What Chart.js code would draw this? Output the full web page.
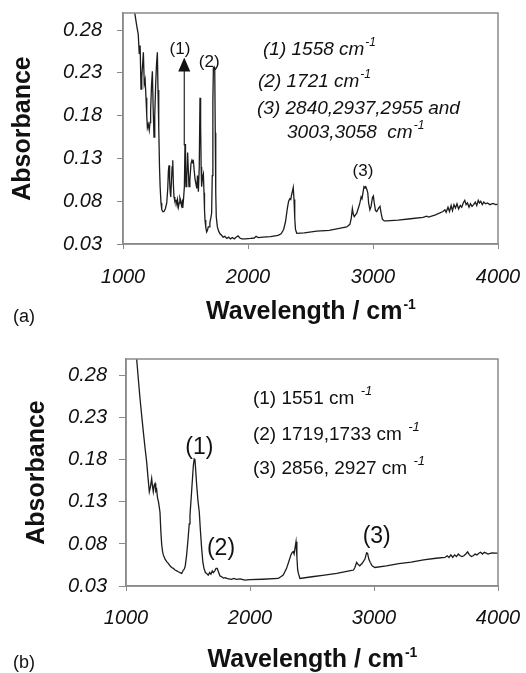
<!DOCTYPE html>
<html lang="en">
<head>
<meta charset="UTF-8">
<title>FTIR spectra (a) and (b)</title>
<style>
  body { margin: 0; background: #fff; }
  canvas { position: absolute; left: 0; }
  #chartA { top: 0; }
  #chartB { top: 330px; }
</style>
</head>
<body>
<canvas id="chartA" width="526" height="330"></canvas>
<canvas id="chartB" width="526" height="343"></canvas>

<script src="https://cdn.jsdelivr.net/npm/chart.js"></script>
<script>
// spectrum (a): wavenumber in cm-1, absorbance
const wavenumA = [1085, 1096, 1110, 1122, 1130, 1137, 1144, 1150, 1157, 1163, 1170, 1177, 1184, 1190, 1195, 1202, 1210, 1216, 1221, 1228,
  1235, 1241, 1248, 1254, 1261, 1268, 1275, 1280, 1286, 1292, 1297, 1304, 1310, 1320, 1328, 1338, 1350, 1358, 1363, 1368,
  1373, 1378, 1382, 1388, 1393, 1398, 1403, 1408, 1415, 1424, 1430, 1436, 1443, 1450, 1455, 1461, 1468, 1474, 1478, 1484,
  1491, 1496, 1500, 1504, 1510, 1517, 1522, 1528, 1535, 1544, 1552, 1558, 1563, 1570, 1577, 1584, 1590, 1596, 1603, 1610,
  1616, 1621, 1625, 1629, 1636, 1643, 1648, 1652, 1656, 1662, 1669, 1676, 1682, 1688, 1695, 1702, 1709, 1714, 1719, 1723,
  1729, 1734, 1738, 1742, 1746, 1755, 1765, 1776, 1790, 1800, 1815, 1830, 1845, 1860, 1875, 1890, 1905, 1920, 1935, 1950,
  1980, 2020, 2050, 2065, 2080, 2120, 2180, 2240, 2265, 2285, 2300, 2315, 2325, 2335, 2342, 2348, 2356, 2362, 2368, 2374,
  2380, 2390, 2450, 2550, 2650, 2720, 2790, 2815, 2826, 2835, 2842, 2850, 2870, 2885, 2895, 2905, 2912, 2920, 2928, 2935,
  2942, 2950, 2958, 2965, 2975, 2985, 2995, 3003, 3010, 3020, 3030, 3045, 3056, 3065, 3075, 3090, 3109, 3200, 3300, 3400,
  3430, 3445, 3500, 3560, 3575, 3585, 3600, 3612, 3625, 3636, 3648, 3660, 3672, 3685, 3698, 3710, 3722, 3734, 3745, 3756,
  3768, 3780, 3792, 3805, 3818, 3830, 3842, 3852, 3862, 3874, 3886, 3900, 3915, 3935, 3960, 3980, 4000];
const absorbA = [0.31, 0.298, 0.285, 0.275, 0.252, 0.262, 0.211, 0.225, 0.240, 0.254, 0.217, 0.222, 0.201, 0.180, 0.166, 0.170, 0.163, 0.172, 0.186, 0.215,
  0.232, 0.190, 0.155, 0.180, 0.215, 0.240, 0.254, 0.210, 0.166, 0.120, 0.097, 0.078, 0.070, 0.0676, 0.068, 0.071, 0.078, 0.095, 0.115, 0.122,
  0.104, 0.090, 0.085, 0.105, 0.120, 0.128, 0.100, 0.085, 0.080, 0.081, 0.077, 0.082, 0.073, 0.078, 0.084, 0.081, 0.075, 0.079, 0.072, 0.082,
  0.097, 0.147, 0.115, 0.097, 0.110, 0.137, 0.118, 0.097, 0.105, 0.124, 0.128, 0.126, 0.127, 0.115, 0.105, 0.100, 0.095, 0.110, 0.091, 0.120,
  0.201, 0.170, 0.120, 0.097, 0.108, 0.112, 0.090, 0.070, 0.058, 0.050, 0.044, 0.046, 0.050, 0.050, 0.055, 0.060, 0.066, 0.110, 0.197, 0.236,
  0.237, 0.233, 0.160, 0.090, 0.062, 0.050, 0.045, 0.042, 0.040, 0.038, 0.039, 0.0365, 0.038, 0.036, 0.0375, 0.036, 0.038, 0.0395, 0.037, 0.036,
  0.036, 0.0365, 0.037, 0.039, 0.0375, 0.038, 0.0385, 0.040, 0.042, 0.047, 0.056, 0.072, 0.080, 0.083, 0.082, 0.087, 0.092, 0.096, 0.082, 0.060,
  0.047, 0.0425, 0.043, 0.045, 0.046, 0.048, 0.050, 0.053, 0.060, 0.0715, 0.065, 0.062, 0.066, 0.073, 0.078, 0.085, 0.083, 0.090, 0.097, 0.096,
  0.097, 0.094, 0.090, 0.078, 0.070, 0.074, 0.084, 0.086, 0.078, 0.069, 0.068, 0.072, 0.074, 0.066, 0.059, 0.057, 0.057, 0.058, 0.0595, 0.061,
  0.0625, 0.0615, 0.064, 0.068, 0.070, 0.067, 0.073, 0.068, 0.075, 0.069, 0.076, 0.072, 0.077, 0.071, 0.075, 0.073, 0.078, 0.081, 0.076, 0.078,
  0.073, 0.077, 0.074, 0.076, 0.079, 0.075, 0.081, 0.078, 0.080, 0.076, 0.079, 0.077, 0.078, 0.076, 0.0775, 0.076, 0.0765];

// spectrum (b)
const wavenumB = [1080, 1086, 1100, 1113, 1127, 1140, 1153, 1167, 1178, 1188, 1197, 1207, 1214, 1220, 1227, 1234, 1240, 1247, 1254, 1262,
  1274, 1281, 1288, 1295, 1301, 1315, 1328, 1341, 1355, 1368, 1382, 1395, 1410, 1422, 1435, 1449, 1456, 1462, 1470, 1478,
  1489, 1500, 1510, 1516, 1528, 1537, 1543, 1550, 1556, 1562, 1570, 1580, 1591, 1600, 1610, 1620, 1629, 1640, 1650, 1663,
  1675, 1685, 1696, 1704, 1716, 1726, 1736, 1745, 1758, 1772, 1785, 1800, 1812, 1830, 1850, 1870, 1890, 1920, 1960, 2000,
  2100, 2228, 2268, 2295, 2315, 2330, 2340, 2349, 2356, 2363, 2371, 2378, 2384, 2390, 2403, 2500, 2600, 2700, 2800, 2835,
  2846, 2860, 2870, 2885, 2905, 2927, 2940, 2948, 2958, 2970, 2985, 3007, 3100, 3200, 3300, 3400, 3500, 3572, 3590, 3605,
  3620, 3635, 3650, 3665, 3680, 3695, 3710, 3725, 3740, 3755, 3770, 3785, 3800, 3815, 3830, 3845, 3860, 3875, 3890, 3905,
  3920, 3950, 3980, 4000];
const absorbB = [0.31, 0.300, 0.275, 0.253, 0.232, 0.213, 0.195, 0.177, 0.158, 0.142, 0.148, 0.158, 0.148, 0.142, 0.150, 0.152, 0.143, 0.145, 0.135, 0.130,
  0.118, 0.095, 0.079, 0.071, 0.067, 0.062, 0.059, 0.057, 0.054, 0.052, 0.051, 0.049, 0.048, 0.047, 0.046, 0.045, 0.047, 0.049, 0.050, 0.054,
  0.067, 0.085, 0.104, 0.114, 0.140, 0.160, 0.173, 0.181, 0.180, 0.168, 0.150, 0.132, 0.118, 0.096, 0.075, 0.058, 0.051, 0.046, 0.045, 0.043,
  0.046, 0.044, 0.048, 0.046, 0.048, 0.051, 0.051, 0.047, 0.042, 0.041, 0.0395, 0.040, 0.039, 0.0385, 0.038, 0.039, 0.038, 0.0385, 0.037, 0.0375,
  0.038, 0.039, 0.043, 0.051, 0.060, 0.067, 0.070, 0.071, 0.068, 0.075, 0.0825, 0.065, 0.050, 0.045, 0.039, 0.041, 0.043, 0.045, 0.048, 0.049,
  0.052, 0.058, 0.056, 0.054, 0.057, 0.062, 0.0695, 0.069, 0.062, 0.058, 0.054, 0.052, 0.054, 0.0565, 0.0585, 0.061, 0.063, 0.064, 0.066, 0.064,
  0.067, 0.064, 0.067, 0.065, 0.068, 0.066, 0.065, 0.066, 0.068, 0.0705, 0.067, 0.065, 0.066, 0.068, 0.067, 0.069, 0.070, 0.068, 0.070, 0.069,
  0.068, 0.0695, 0.069, 0.069];

const yTicks = [0.03, 0.08, 0.13, 0.18, 0.23, 0.28];
const xTicks = [1000, 2000, 3000, 4000];

// text blocks: [main text, superscript]
const notesA = [['(1) 1558 cm', '-1'], ['(2) 1721 cm', '-1'], ['(3) 2840,2937,2955 and', ''], ['3003,3058  cm', '-1']];
const notesB = [['(1) 1551 cm ', '-1'], ['(2) 1719,1733 cm ', '-1'], ['(3) 2856, 2927 cm ', '-1']];
const peaksA = ['(1)', '(2)', '(3)'];
const peaksB = ['(1)', '(2)', '(3)'];

const SANS = '"Liberation Sans", Arial, sans-serif';

function drawSup(ctx, main, sup, x, y, font, supFont, align) {
  ctx.font = font;
  const w1 = ctx.measureText(main).width;
  ctx.font = supFont;
  const w2 = sup ? ctx.measureText(sup).width : 0;
  let x0 = x;
  if (align === 'center') x0 = x - (w1 + w2) / 2;
  ctx.textAlign = 'left';
  ctx.textBaseline = 'middle';
  ctx.font = font;
  ctx.fillText(main, x0, y);
  if (sup) {
    ctx.font = supFont;
    ctx.fillText(sup, x0 + w1 + 1, y - 7);
  }
}

const panelText = {
  id: 'panelText',
  afterDraw(chart, args, o) {
    const { ctx, chartArea: a, scales: { x, y } } = chart;
    ctx.save();
    ctx.fillStyle = '#111';
    // frame round the plot
    ctx.strokeStyle = '#8a8a8a';
    ctx.lineWidth = 1.5;
    ctx.strokeRect(a.left, a.top, a.right - a.left, a.bottom - a.top);

    // notes
    o.notes.forEach((n, i) => {
      drawSup(ctx, n[0], n[1], x.getPixelForValue(o.notePos[i][0]), y.getPixelForValue(o.notePos[i][1]),
        o.noteFont, o.supFont, 'left');
    });
    // peak labels
    ctx.font = o.peakFont;
    ctx.textAlign = 'center';
    ctx.textBaseline = 'middle';
    o.peaks.forEach((p, i) => {
      ctx.fillText(p, x.getPixelForValue(o.peakPos[i][0]), y.getPixelForValue(o.peakPos[i][1]));
    });
    // arrow
    if (o.arrow) {
      const ax = x.getPixelForValue(o.arrow[0]);
      const y0 = y.getPixelForValue(o.arrow[1]);
      const y1 = y.getPixelForValue(o.arrow[2]);
      ctx.strokeStyle = '#111';
      ctx.lineWidth = 1.1;
      ctx.beginPath();
      ctx.moveTo(ax, y0);
      ctx.lineTo(ax, y1 + 12);
      ctx.stroke();
      ctx.beginPath();
      ctx.moveTo(ax, y1);
      ctx.lineTo(ax - 6, y1 + 14);
      ctx.lineTo(ax + 6, y1 + 14);
      ctx.closePath();
      ctx.fill();
    }
    // x axis title and panel letter
    drawSup(ctx, 'Wavelength / cm', '-1', (a.left + a.right) / 2, o.titleY,
      'bold 25px ' + SANS, 'bold 14px ' + SANS, 'center');
    ctx.font = '18px ' + SANS;
    ctx.textAlign = 'left';
    ctx.fillText(o.letter, 13, o.letterY);
    ctx.restore();
  }
};

function makePanel(id, xs, ys, p) {
  return new Chart(document.getElementById(id), {
    type: 'line',
    data: {
      datasets: [{
        data: xs.map((v, i) => ({ x: v, y: ys[i] })),
        borderColor: '#1c1c1c',
        borderWidth: 1.3,
        pointRadius: 0,
        tension: 0
      }]
    },
    options: {
      responsive: false,
      animation: false,
      layout: { padding: { top: p.top, right: 28, left: 0, bottom: 0 } },
      plugins: {
        legend: { display: false },
        tooltip: { enabled: false },
        panelText: p.text
      },
      scales: {
        x: {
          type: 'linear', min: 1000, max: 4000,
          afterBuildTicks: s => { s.ticks = xTicks.map(v => ({ value: v })); },
          afterFit: s => { s.height = p.xHeight; s.paddingLeft = 0; s.paddingRight = 0; },
          grid: { drawOnChartArea: false, tickLength: 5, color: '#8a8a8a' },
          border: { color: '#8a8a8a', width: 1.5 },
          ticks: { padding: p.xPad, color: '#111', maxRotation: 0, callback: v => String(v),
            font: { family: SANS, size: 20, style: 'italic' } }
        },
        y: {
          min: 0.03, max: 0.30,
          afterBuildTicks: s => { s.ticks = yTicks.map(v => ({ value: v })); },
          afterFit: s => { s.width = p.yWidth; s.paddingTop = 0; s.paddingBottom = 0; },
          grid: { drawOnChartArea: false, tickLength: p.yTick, color: '#8a8a8a' },
          border: { color: '#8a8a8a', width: 1.5 },
          ticks: { padding: p.yPad, color: '#111', callback: v => v.toFixed(2),
            font: { family: SANS, size: 20, style: 'italic' } },
          title: { display: true, text: 'Absorbance', color: '#111', padding: { top: p.yTitlePad },
            font: { family: SANS, size: 25, weight: 'bold' } }
        }
      }
    },
    plugins: [panelText]
  });
}

makePanel('chartA', wavenumA, absorbA, {
  top: 13, xHeight: 86, yWidth: 123, yTick: 6, yPad: 15, xPad: 16, yTitlePad: 8,
  text: {
    notes: notesA,
    notePos: [[2120, 0.257], [2080, 0.2196], [2072, 0.188], [2312, 0.160]],
    noteFont: 'italic 19px ' + SANS, supFont: 'italic 12px ' + SANS,
    peaks: peaksA,
    peakPos: [[1456, 0.257], [1690, 0.242], [2920, 0.115]],
    peakFont: '17px ' + SANS,
    arrow: [1490, 0.145, 0.248],
    titleY: 312, letter: '(a)', letterY: 317
  }
});

makePanel('chartB', wavenumB, absorbB, {
  top: 29, xHeight: 87, yWidth: 126, yTick: 7, yPad: 12, xPad: 15, yTitlePad: 22,
  text: {
    notes: notesB,
    notePos: [[2024, 0.253], [2024, 0.210], [2024, 0.170]],
    noteFont: '19px ' + SANS, supFont: 'italic 13px ' + SANS,
    peaks: peaksB,
    peakPos: [[1591, 0.195], [1766, 0.074], [3022, 0.089]],
    peakFont: '23px ' + SANS,
    arrow: null,
    titleY: 330, letter: '(b)', letterY: 333
  }
});
</script>
</body>
</html>
